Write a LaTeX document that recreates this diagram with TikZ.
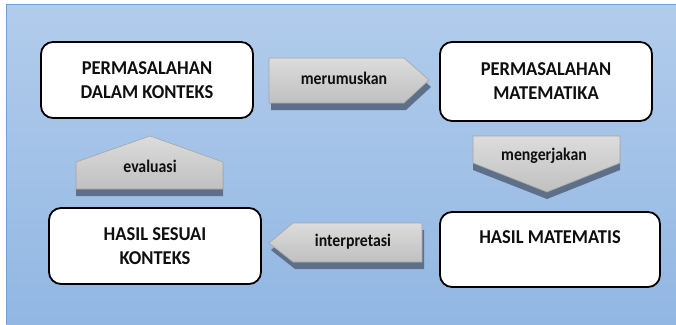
\documentclass[tikz,border=0pt]{standalone}
\usepackage{fontspec}
\usepackage{graphicx}
\setmainfont{Carlito}
\definecolor{bgtop}{RGB}{178,204,235}
\definecolor{bgbot}{RGB}{146,183,227}
\definecolor{bgline}{RGB}{112,160,218}
\definecolor{arrtop}{RGB}{220,220,220}
\definecolor{arrbot}{RGB}{192,192,192}
\definecolor{arrline}{RGB}{165,165,165}
\definecolor{shade}{RGB}{94,112,137}
\definecolor{txt}{RGB}{15,15,15}
\newcommand{\bst}[1]{\scalebox{1}[1.06]{#1}}
\newcommand{\lst}[1]{\scalebox{1}[1.12]{#1}}
\begin{document}
\begin{tikzpicture}[x=1pt,y=-1pt,
  box/.style={draw=black,fill=white,line width=1.8pt,rounded corners=12pt,align=center,
    font=\bfseries\fontsize{18.5}{24}\selectfont,text=txt,inner sep=0pt},
  arr/.style={top color=arrtop,bottom color=arrbot,draw=arrline,line width=0.6pt},
  shd/.style={fill=shade},
  lbl/.style={font=\bfseries\fontsize{15.8}{18}\selectfont,text=txt,inner sep=0pt}]
\useasboundingbox (0,0) rectangle (676,324);
\fill[white] (0,0) rectangle (676,324);
\shade[top color=bgtop,bottom color=bgbot] (6,4) rectangle (676,324);
\draw[bgline,line width=1pt] (6,324) -- (6,4) -- (676,4);
% boxes
\node[box,minimum width=212pt,minimum height=76pt] (b1) at (147,80) {\bst{PERMASALAHAN}\\\bst{DALAM KONTEKS}};
\node[box,minimum width=212pt,minimum height=79pt] (b2) at (546,81.5) {\bst{PERMASALAHAN}\\\bst{MATEMATIKA}};
\node[box,minimum width=212pt,minimum height=76pt] (b3) at (155,246) {\bst{HASIL SESUAI}\\\bst{KONTEKS}};
\node[box,minimum width=220pt,minimum height=75pt] (b4) at (550,249.5) {\bst{HASIL MATEMATIS}\\\mbox{}};
% merumuskan (right)
\fill[shd] (271,65) -- (406,65) -- (431,87) -- (406,110) -- (271,110) -- cycle;
\path[arr] (269,58) -- (404,58) -- (429,80) -- (404,103) -- (269,103) -- cycle;
\node[lbl] (l1) at (344,78) {\lst{merumuskan}};
% mengerjakan (down)
\fill[shd] (473,143) -- (620,143) -- (620,170) -- (547,199) -- (473,170) -- cycle;
\path[arr] (473,136) -- (620,136) -- (620,163) -- (547,192) -- (473,163) -- cycle;
\node[lbl] (l2) at (544,156) {\lst{mengerjakan}};
% evaluasi (up)
\fill[shd] (76,196) -- (76,169) -- (150,143) -- (223,169) -- (223,196) -- cycle;
\path[arr] (76,189) -- (76,162) -- (150,136) -- (223,162) -- (223,189) -- cycle;
\node[lbl] (l3) at (150,166) {\lst{evaluasi}};
% interpretasi (left)
\fill[shd] (424,230) -- (295,230) -- (271,250) -- (295,269) -- (424,269) -- cycle;
\path[arr] (422,223) -- (293,223) -- (269,243) -- (293,262) -- (422,262) -- cycle;
\node[lbl] (l4) at (353,242) {\lst{interpretasi}};
\end{tikzpicture}
\end{document}
